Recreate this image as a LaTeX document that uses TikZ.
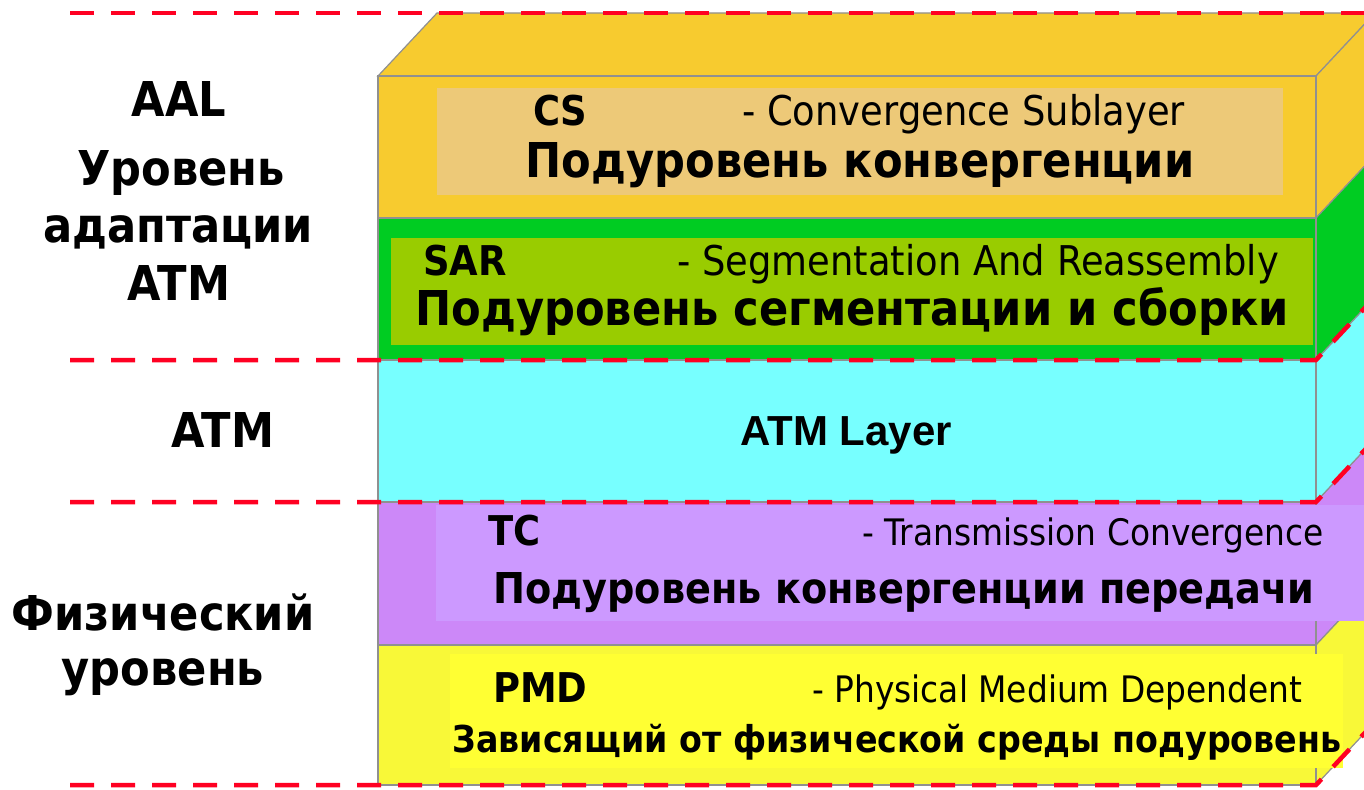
\documentclass[tikz,border=0pt]{standalone}
\usepackage{fontspec}
\setmainfont{DejaVu Sans}
\newfontfamily\arialfont{Liberation Sans}
\usetikzlibrary{positioning}
\definecolor{csfill}{HTML}{F7CB2F}
\definecolor{csbox}{HTML}{EDC978}
\definecolor{sarfill}{HTML}{00CC22}
\definecolor{sarbox}{HTML}{99CC00}
\definecolor{atmfill}{HTML}{77FFFF}
\definecolor{tcfill}{HTML}{CC88F8}
\definecolor{tcbox}{HTML}{CC99FF}
\definecolor{pmdfill}{HTML}{F8F838}
\definecolor{pmdbox}{HTML}{FFFF33}
\definecolor{edge}{HTML}{909090}
\definecolor{redash}{HTML}{FF0022}
\newcommand{\nw}[1]{\scalebox{0.9}[1]{#1}}

\begin{document}
\begin{tikzpicture}[x=1pt, y=-1pt,
  face/.style={draw=edge, line width=1.2pt},
  sep/.style={draw=redash, line width=4.5pt, dash pattern=on 24pt off 17pt},
  big/.style={anchor=base, inner sep=0pt, font=\bfseries\fontsize{48}{56}\selectfont},
  head/.style={anchor=base west, inner sep=0pt, font=\bfseries\fontsize{41}{48}\selectfont},
  expl/.style={anchor=base west, inner sep=0pt, font=\fontsize{41}{48}\selectfont},
  smallexpl/.style={expl, font=\fontsize{36.5}{44}\selectfont}
]
\useasboundingbox (0,0) rectangle (1364,789);

% layered block: top face, right side and front of every layer
\path[face, fill=csfill] (378,76) -- (437,13) -- (1375,13) -- (1316,76) -- cycle;
\foreach \ytop/\ybot/\col in {76/218/csfill, 218/360/sarfill, 360/502/atmfill, 502/645/tcfill, 645/785/pmdfill}{
  \path[face, fill=\col] (1316,\ybot) -- (1316,\ytop) -- (1375,\ytop-63) -- (1375,\ybot-63) -- cycle;
  \path[face, fill=\col] (378,\ytop) rectangle (1316,\ybot);
}

% inner label boxes
\fill[csbox] (437,88) rectangle (1283,195);
\fill[sarbox] (391,238) rectangle (1313,345);
\fill[tcbox] (436,505) rectangle (1364,621);
\fill[pmdbox] (450,654) rectangle (1343,768);

% red level separators
\draw[sep] (70,13) -- (1364,13);
\foreach \y in {360,502,785}
  \draw[sep] (70,\y) -- (1316,\y) -- (1375,\y-63);

% left level names
\node[big] (aal) at (179,117) {\nw{AAL}};
\node[big] (aalurov) at (181,185) {\nw{Уровень}};
\node[big] (aaladapt) at (178,242) {\nw{адаптации}};
\node[big] (aalatm) at (179,300) {\nw{ATM}};
\node[big] (atm) at (223,447) {\nw{ATM}};
\node[big] (phys) at (163,630) {\nw{Физический}};
\node[big] (physurov) at (163,685) {\nw{уровень}};

% sublayer texts
\node[head] (cs) at (533,125) {\nw{CS}};
\node[expl] (csen) at (742,125) {\nw{- Convergence Sublayer}};
\node[big] (csru) at (860,177) {\nw{Подуровень конвергенции}};
\node[head] (sar) at (423,275) {\nw{SAR}};
\node[expl] (saren) at (677,275) {\nw{- Segmentation And Reassembly}};
\node[big] (sarru) at (852,325) {\nw{Подуровень сегментации и сборки}};
\node[anchor=base, inner sep=0pt, font=\arialfont\bfseries\fontsize{42}{48}\selectfont] (atmlayer) at (846,445) {ATM Layer};
\node[head] (tc) at (488,545) {\nw{TC}};
\node[smallexpl] (tcen) at (862,545) {\nw{- Transmission Convergence}};
\node[big, font=\bfseries\fontsize{42.5}{50}\selectfont] (tcru) at (904,603) {\nw{Подуровень конвергенции передачи}};
\node[head] (pmd) at (493,702) {\nw{PMD}};
\node[smallexpl] (pmden) at (812,702) {\nw{- Physical Medium Dependent}};
\node[big, font=\bfseries\fontsize{37}{44}\selectfont] (pmdru) at (897,752) {\nw{Зависящий от физической среды подуровень}};
\end{tikzpicture}
\end{document}
